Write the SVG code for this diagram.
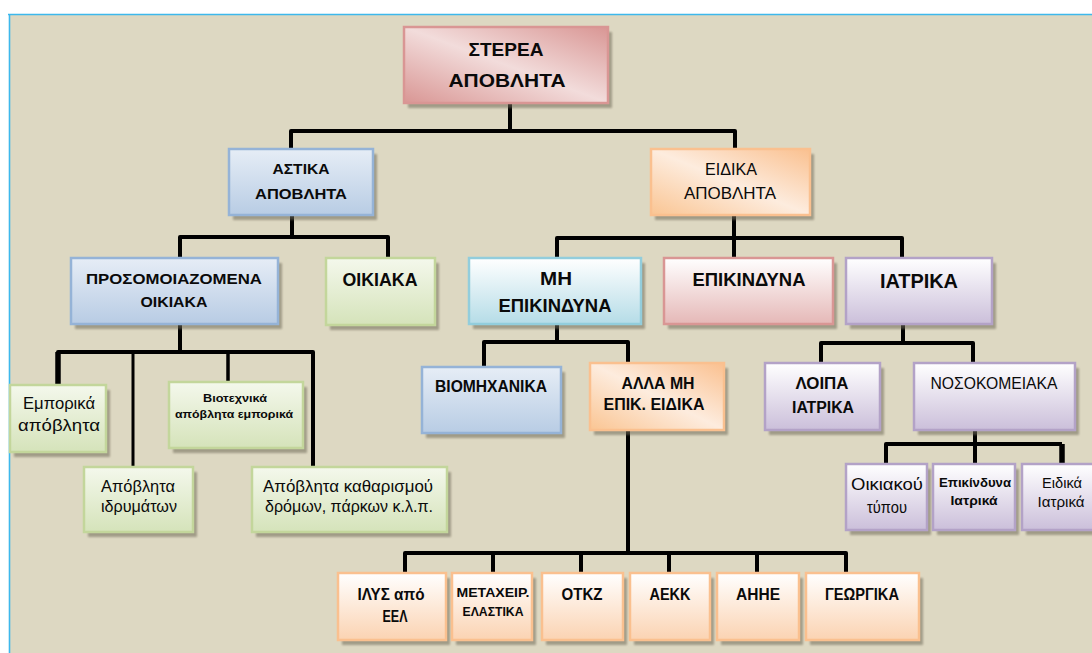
<svg xmlns="http://www.w3.org/2000/svg" width="1092" height="653" viewBox="0 0 1092 653">
<style>
.t{font-family:"Liberation Sans",Arial,sans-serif;fill:#0a0a0a;text-anchor:middle}
.b{font-weight:bold}
.sh{fill:#6f6a58;opacity:.55;filter:url(#blur)}
.c{fill:none;stroke:#000;stroke-width:4;stroke-linejoin:round;stroke-linecap:butt}
.blue{fill:url(#gBlue);stroke:#95B3D7;stroke-width:2.5}
.green{fill:url(#gGreen);stroke:#C3D69B;stroke-width:2.5}
.cyan{fill:url(#gCyan);stroke:#92CDDC;stroke-width:2.5}
.red{fill:url(#gRed);stroke:#D99694;stroke-width:2.5}
.purple{fill:url(#gPurple);stroke:#B3A2C7;stroke-width:2.5}
.orange{fill:url(#gOrange);stroke:#FAC08F;stroke-width:2.5}
.orangeD{fill:url(#gOrangeD);stroke:#FAC08F;stroke-width:2.5}
.root{fill:url(#gRoot);stroke:#D99694;stroke-width:2.5}
</style>
<defs>
<filter id="blur" x="-10%" y="-10%" width="120%" height="120%"><feGaussianBlur stdDeviation="0.8"/></filter>
<linearGradient id="gBlue" x1="0" y1="0" x2="0" y2="1"><stop offset="0" stop-color="#E6EDF6"/><stop offset="1" stop-color="#B8CCE4"/></linearGradient>
<linearGradient id="gGreen" x1="0" y1="0" x2="0" y2="1"><stop offset="0" stop-color="#F4F8EC"/><stop offset="1" stop-color="#D5E3BA"/></linearGradient>
<linearGradient id="gCyan" x1="0" y1="0" x2="0" y2="1"><stop offset="0" stop-color="#FFFFFF"/><stop offset="1" stop-color="#B5DCE7"/></linearGradient>
<linearGradient id="gRed" x1="0" y1="0" x2="0" y2="1"><stop offset="0" stop-color="#FFFFFF"/><stop offset="1" stop-color="#E5B8B7"/></linearGradient>
<linearGradient id="gPurple" x1="0" y1="0" x2="0" y2="1"><stop offset="0" stop-color="#FFFFFF"/><stop offset="1" stop-color="#CBBFDA"/></linearGradient>
<linearGradient id="gOrange" x1="0" y1="0" x2="0" y2="1"><stop offset="0" stop-color="#FFFFFF"/><stop offset="1" stop-color="#FBD3B2"/></linearGradient>
<linearGradient id="gOrangeD" x1="0" y1="1" x2="1" y2="0"><stop offset="0" stop-color="#FAC593"/><stop offset=".5" stop-color="#FDECDE"/><stop offset="1" stop-color="#FAC08F"/></linearGradient>
<linearGradient id="gRoot" x1="0" y1="1" x2="1" y2="0"><stop offset="0" stop-color="#D99694"/><stop offset=".5" stop-color="#F2DCDB"/><stop offset="1" stop-color="#D99694"/></linearGradient>
</defs>
<rect x="0" y="0" width="1092" height="653" fill="#FFFFFF"/>
<rect x="9" y="14" width="1083" height="639" fill="#DDD8C2"/>
<path d="M8,14.5 H1092 M9.5,14 V653" stroke="#3DB8EC" stroke-width="1.6" fill="none"/>

<g id="connectors">
<path class="c" d="M510,103 V131"/>
<path class="c" d="M291,149 V131 H735 V149"/>
<path class="c" d="M292,215 V237"/>
<path class="c" d="M180,258 V237 H388 V258"/>
<path class="c" d="M734,215 V258"/>
<path class="c" d="M557,258 V238 H902 V258"/>
<path class="c" d="M180,324 V352"/>
<path class="c" d="M58,385 V352 H313 V467"/>
<path class="c" d="M58,352 V385" style="stroke-width:5.5"/>
<path class="c" d="M133,352 V467" style="stroke-width:3"/>
<path class="c" d="M228,352 V382" style="stroke-width:3.5"/>
<path class="c" d="M557,324 V342"/>
<path class="c" d="M484,367 V342 H628 V363"/>
<path class="c" d="M903,324 V343"/>
<path class="c" d="M821,363 V343 H973 V363"/>
<path class="c" d="M975,430 V464"/>
<path class="c" d="M886,464 V444 H1062"/>
<path class="c" d="M1062,444 V464" style="stroke-width:5.5"/>
<path class="c" d="M628,430 V553"/>
<path class="c" d="M405,573 V553 H846 V573"/>
<path class="c" d="M493,553 V573 M581,553 V573 M669,553 V573 M757,553 V573"/>
</g>

<g id="n-root">
<rect class="sh" x="408" y="32" width="204" height="76"/>
<rect class="root" x="404" y="27" width="204" height="76"/>
<text class="t b" x="506" y="56" font-size="18" textLength="75" lengthAdjust="spacingAndGlyphs">ΣΤΕΡΕΑ</text>
<text class="t b" x="507" y="87" font-size="18" textLength="117" lengthAdjust="spacingAndGlyphs">ΑΠΟΒΛΗΤΑ</text>
</g>

<g id="n-astika">
<rect class="sh" x="233" y="154" width="144" height="66"/>
<rect class="blue" x="229" y="149" width="144" height="66"/>
<text class="t b" x="301" y="174" font-size="14" textLength="57" lengthAdjust="spacingAndGlyphs">ΑΣΤΙΚΑ</text>
<text class="t b" x="301" y="199" font-size="14" textLength="92" lengthAdjust="spacingAndGlyphs">ΑΠΟΒΛΗΤΑ</text>
</g>

<g id="n-eidika">
<rect class="sh" x="655" y="154" width="159" height="66"/>
<rect class="orangeD" x="651" y="149" width="159" height="66"/>
<text class="t" x="731" y="175" font-size="17" textLength="52" lengthAdjust="spacingAndGlyphs">ΕΙΔΙΚΑ</text>
<text class="t" x="730" y="199" font-size="17" textLength="92" lengthAdjust="spacingAndGlyphs">ΑΠΟΒΛΗΤΑ</text>
</g>

<g id="n-prosom">
<rect class="sh" x="75" y="263" width="207" height="66"/>
<rect class="blue" x="71" y="258" width="207" height="66"/>
<text class="t b" x="174" y="284" font-size="15" textLength="176" lengthAdjust="spacingAndGlyphs">ΠΡΟΣΟΜΟΙΑΖΟΜΕΝΑ</text>
<text class="t b" x="174" y="307" font-size="15" textLength="67" lengthAdjust="spacingAndGlyphs">ΟΙΚΙΑΚΑ</text>
</g>

<g id="n-oikiaka">
<rect class="sh" x="330" y="263" width="109" height="67"/>
<rect class="green" x="326" y="258" width="109" height="67"/>
<text class="t b" x="380" y="286" font-size="18" textLength="75" lengthAdjust="spacingAndGlyphs">ΟΙΚΙΑΚΑ</text>
</g>

<g id="n-mh">
<rect class="sh" x="473" y="263" width="172" height="66"/>
<rect class="cyan" x="469" y="258" width="172" height="66"/>
<text class="t b" x="556" y="285" font-size="18" textLength="32" lengthAdjust="spacingAndGlyphs">ΜΗ</text>
<text class="t b" x="555" y="312" font-size="18" textLength="113" lengthAdjust="spacingAndGlyphs">ΕΠΙΚΙΝΔΥΝΑ</text>
</g>

<g id="n-epik">
<rect class="sh" x="668" y="263" width="169" height="66"/>
<rect class="red" x="664" y="258" width="169" height="66"/>
<text class="t b" x="749" y="286" font-size="18" textLength="113" lengthAdjust="spacingAndGlyphs">ΕΠΙΚΙΝΔΥΝΑ</text>
</g>

<g id="n-iatrika">
<rect class="sh" x="850" y="263" width="146" height="66"/>
<rect class="purple" x="846" y="258" width="146" height="66"/>
<text class="t b" x="919" y="288" font-size="20" textLength="78" lengthAdjust="spacingAndGlyphs">ΙΑΤΡΙΚΑ</text>
</g>

<g id="n-emporika">
<rect class="sh" x="14" y="390" width="96" height="67"/>
<rect class="green" x="10" y="385" width="96" height="67"/>
<text class="t" x="59" y="409" font-size="17" textLength="72" lengthAdjust="spacingAndGlyphs">Εμπορικά</text>
<text class="t" x="59" y="431" font-size="17" textLength="82" lengthAdjust="spacingAndGlyphs">απόβλητα</text>
</g>

<g id="n-viotex">
<rect class="sh" x="173" y="387" width="134" height="66"/>
<rect class="green" x="169" y="382" width="134" height="66"/>
<text class="t b" x="235" y="402" font-size="10" textLength="64" lengthAdjust="spacingAndGlyphs">Βιοτεχνικά</text>
<text class="t b" x="234" y="418" font-size="10" textLength="118" lengthAdjust="spacingAndGlyphs">απόβλητα εμπορικά</text>
</g>

<g id="n-idrym">
<rect class="sh" x="88" y="472" width="109" height="65"/>
<rect class="green" x="84" y="467" width="109" height="65"/>
<text class="t" x="138" y="492" font-size="17" textLength="74" lengthAdjust="spacingAndGlyphs">Απόβλητα</text>
<text class="t" x="139" y="512" font-size="17" textLength="76" lengthAdjust="spacingAndGlyphs">ιδρυμάτων</text>
</g>

<g id="n-kathar">
<rect class="sh" x="256" y="472" width="195" height="65"/>
<rect class="green" x="252" y="467" width="195" height="65"/>
<text class="t" x="348" y="492" font-size="17" textLength="170" lengthAdjust="spacingAndGlyphs">Απόβλητα καθαρισμού</text>
<text class="t" x="349" y="512" font-size="17" textLength="168" lengthAdjust="spacingAndGlyphs">δρόμων, πάρκων κ.λ.π.</text>
</g>

<g id="n-viomix">
<rect class="sh" x="426" y="372" width="139" height="66"/>
<rect class="blue" x="422" y="367" width="139" height="66"/>
<text class="t b" x="491" y="392" font-size="16" textLength="112" lengthAdjust="spacingAndGlyphs">ΒΙΟΜΗΧΑΝΙΚΑ</text>
</g>

<g id="n-alla">
<rect class="sh" x="594" y="368" width="134" height="67"/>
<rect class="orangeD" x="590" y="363" width="134" height="67"/>
<text class="t b" x="658" y="389" font-size="16" textLength="73" lengthAdjust="spacingAndGlyphs">ΑΛΛΑ ΜΗ</text>
<text class="t b" x="654" y="410" font-size="16" textLength="101" lengthAdjust="spacingAndGlyphs">ΕΠΙΚ. ΕΙΔΙΚΑ</text>
</g>

<g id="n-loipa">
<rect class="sh" x="769" y="368" width="115" height="67"/>
<rect class="purple" x="765" y="363" width="115" height="67"/>
<text class="t b" x="822" y="389" font-size="16" textLength="53" lengthAdjust="spacingAndGlyphs">ΛΟΙΠΑ</text>
<text class="t b" x="823" y="413" font-size="16" textLength="62" lengthAdjust="spacingAndGlyphs">ΙΑΤΡΙΚΑ</text>
</g>

<g id="n-nosok">
<rect class="sh" x="918" y="368" width="161" height="67"/>
<rect class="purple" x="914" y="363" width="161" height="67"/>
<text class="t" x="994" y="389" font-size="16" textLength="127" lengthAdjust="spacingAndGlyphs">ΝΟΣΟΚΟΜΕΙΑΚΑ</text>
</g>

<g id="n-oikiak-typ">
<rect class="sh" x="850" y="469" width="81" height="66"/>
<rect class="purple" x="846" y="464" width="81" height="66"/>
<text class="t" x="887" y="490" font-size="16" textLength="72" lengthAdjust="spacingAndGlyphs">Οικιακού</text>
<text class="t" x="887" y="513" font-size="16" textLength="40" lengthAdjust="spacingAndGlyphs">τύπου</text>
</g>

<g id="n-epik-iatr">
<rect class="sh" x="937" y="469" width="82" height="66"/>
<rect class="purple" x="933" y="464" width="82" height="66"/>
<text class="t b" x="975" y="487" font-size="12" textLength="72" lengthAdjust="spacingAndGlyphs">Επικίνδυνα</text>
<text class="t b" x="974" y="505" font-size="12" textLength="47" lengthAdjust="spacingAndGlyphs">Ιατρικά</text>
</g>

<g id="n-eidika-iatr">
<rect class="sh" x="1026" y="469" width="80" height="66"/>
<rect class="purple" x="1022" y="464" width="80" height="66"/>
<text class="t" x="1062" y="488" font-size="15" textLength="40" lengthAdjust="spacingAndGlyphs">Ειδικά</text>
<text class="t" x="1061" y="507" font-size="15" textLength="47" lengthAdjust="spacingAndGlyphs">Ιατρικά</text>
</g>

<g id="n-ilys">
<rect class="sh" x="342" y="578" width="108" height="67"/>
<rect class="orange" x="338" y="573" width="108" height="67"/>
<text class="t b" x="391" y="600" font-size="17" textLength="67" lengthAdjust="spacingAndGlyphs">ΙΛΥΣ από</text>
<text class="t b" x="395" y="622" font-size="17" textLength="25" lengthAdjust="spacingAndGlyphs">ΕΕΛ</text>
</g>

<g id="n-metax">
<rect class="sh" x="456" y="578" width="80" height="67"/>
<rect class="orange" x="452" y="573" width="80" height="67"/>
<text class="t b" x="493" y="597" font-size="12" textLength="73" lengthAdjust="spacingAndGlyphs">ΜΕΤΑΧΕΙΡ.</text>
<text class="t b" x="493" y="616" font-size="12" textLength="61" lengthAdjust="spacingAndGlyphs">ΕΛΑΣΤΙΚΑ</text>
</g>

<g id="n-otkz">
<rect class="sh" x="546" y="578" width="81" height="67"/>
<rect class="orange" x="542" y="573" width="81" height="67"/>
<text class="t b" x="582" y="600" font-size="17" textLength="41" lengthAdjust="spacingAndGlyphs">ΟΤΚΖ</text>
</g>

<g id="n-aekk">
<rect class="sh" x="634" y="578" width="80" height="67"/>
<rect class="orange" x="630" y="573" width="80" height="67"/>
<text class="t b" x="670" y="600" font-size="17" textLength="41" lengthAdjust="spacingAndGlyphs">ΑΕΚΚ</text>
</g>

<g id="n-aihe">
<rect class="sh" x="721" y="578" width="82" height="67"/>
<rect class="orange" x="717" y="573" width="82" height="67"/>
<text class="t b" x="758" y="600" font-size="17" textLength="44" lengthAdjust="spacingAndGlyphs">ΑΗΗΕ</text>
</g>

<g id="n-georg">
<rect class="sh" x="810" y="578" width="113" height="67"/>
<rect class="orange" x="806" y="573" width="113" height="67"/>
<text class="t b" x="862" y="600" font-size="17" textLength="74" lengthAdjust="spacingAndGlyphs">ΓΕΩΡΓΙΚΑ</text>
</g>
</svg>
